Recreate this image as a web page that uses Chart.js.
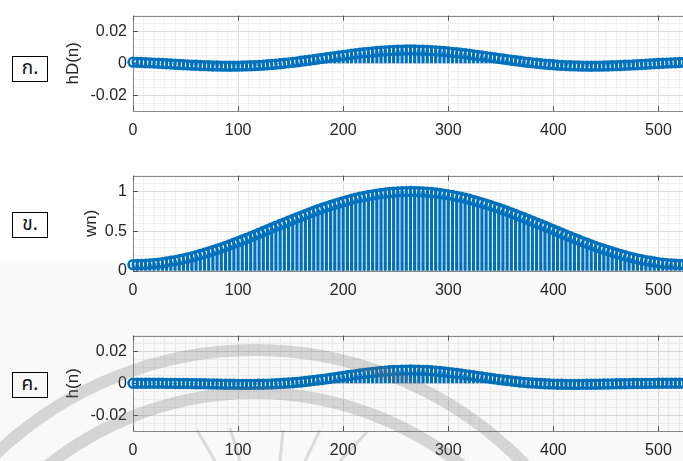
<!DOCTYPE html>
<html>
<head>
<meta charset="utf-8">
<script src="https://cdn.jsdelivr.net/npm/chart.js@4.4.1/dist/chart.umd.min.js"></script>
<style>
body { margin: 0; background: #fff; width: 683px; height: 461px; overflow: hidden; position: relative; }
canvas { position: absolute; left: 0; }
.tag { position: absolute; left: 12px; width: 34px; height: 24px; border: 1.5px solid #000; font-size: 19px; line-height: 24px;
       text-align: center; color: #111; font-family: "Noto Sans Thai", "Noto Sans", "DejaVu Sans", sans-serif; }
#mark { position: absolute; left: 0; top: 0; pointer-events: none; }
</style>
</head>
<body>
<div class="tag" style="top:56px">ก.</div>
<div class="tag" style="top:212px">ข.</div>
<div class="tag" style="top:372px">ค.</div>
<canvas id="c1" width="700" height="140" style="top:0px"></canvas>
<canvas id="c2" width="700" height="140" style="top:160px"></canvas>
<canvas id="c3" width="700" height="140" style="top:320px"></canvas>
<!-- faint watermark of the scanned page -->
<svg id="mark" width="683" height="461" viewBox="0 0 683 461">
  <rect x="0" y="263" width="683" height="198" fill="rgba(0,0,0,0.022)"/>
  <g fill="none" stroke="rgba(110,110,110,0.26)" stroke-width="12">
    <circle cx="255" cy="725" r="375"/>
    <circle cx="255" cy="725" r="332"/>
  </g>
  <g stroke="rgba(110,110,110,0.22)" stroke-width="3">
    <line x1="197" y1="430" x2="215" y2="461"/>
    <line x1="230" y1="428" x2="240" y2="461"/>
    <line x1="283" y1="430" x2="280" y2="461"/>
    <line x1="320" y1="430" x2="305" y2="461"/>
    <line x1="367" y1="432" x2="340" y2="461"/>
  </g>
</svg>
<script>
// sample spacing (n = 0, 4, 8 ... 528)
var STEP = 4;

// ก. ideal response hD(n)
var hD = [
  0.00071, 0.00061, 0.00051, 0.00039, 0.00027, 0.00014, 0, -0.00014, -0.00029, -0.00043,
  -0.00058, -0.00072, -0.00087, -0.00101, -0.00114, -0.00126, -0.00138, -0.00148, -0.00158, -0.00166,
  -0.00172, -0.00177, -0.00180, -0.00181, -0.00180, -0.00177, -0.00172, -0.00165, -0.00156, -0.00144,
  -0.00130, -0.00114, -0.00095, -0.00075, -0.00052, -0.00027, 0, 0.00029, 0.00059, 0.00091,
  0.00125, 0.00159, 0.00195, 0.00232, 0.00269, 0.00307, 0.00345, 0.00383, 0.00421, 0.00458,
  0.00495, 0.00531, 0.00565, 0.00599, 0.00631, 0.00661, 0.00689, 0.00715, 0.00739, 0.00761,
  0.00780, 0.00796, 0.00809, 0.00820, 0.00827, 0.00832, 0.00833,
  0.00832, 0.00827, 0.00820, 0.00809, 0.00796, 0.00780, 0.00761, 0.00739, 0.00715, 0.00689,
  0.00661, 0.00631, 0.00599, 0.00565, 0.00531, 0.00495, 0.00458, 0.00421, 0.00383, 0.00345,
  0.00307, 0.00269, 0.00232, 0.00195, 0.00159, 0.00125, 0.00091, 0.00059, 0.00029, 0,
  -0.00027, -0.00052, -0.00075, -0.00095, -0.00114, -0.00130, -0.00144, -0.00156, -0.00165, -0.00172,
  -0.00177, -0.00180, -0.00181, -0.00180, -0.00177, -0.00172, -0.00166, -0.00158, -0.00148, -0.00138,
  -0.00126, -0.00114, -0.00101, -0.00087, -0.00072, -0.00058, -0.00043, -0.00029, -0.00014, 0,
  0.00014, 0.00027, 0.00039, 0.00051, 0.00061, 0.00071
];

// ข. window wn
var wn = [
  0.080, 0.081, 0.082, 0.085, 0.088, 0.093, 0.099, 0.105, 0.113, 0.122,
  0.131, 0.142, 0.153, 0.165, 0.178, 0.192, 0.207, 0.223, 0.239, 0.256,
  0.273, 0.291, 0.310, 0.329, 0.349, 0.369, 0.390, 0.410, 0.432, 0.453,
  0.475, 0.496, 0.518, 0.540, 0.562, 0.584, 0.605, 0.627, 0.648, 0.670,
  0.690, 0.711, 0.731, 0.751, 0.770, 0.789, 0.807, 0.824, 0.841, 0.857,
  0.873, 0.888, 0.902, 0.915, 0.927, 0.938, 0.949, 0.958, 0.967, 0.975,
  0.981, 0.987, 0.992, 0.995, 0.998, 0.999, 1.000,
  0.999, 0.998, 0.995, 0.992, 0.987, 0.981, 0.975, 0.967, 0.958, 0.949,
  0.938, 0.927, 0.915, 0.902, 0.888, 0.873, 0.857, 0.841, 0.824, 0.807,
  0.789, 0.770, 0.751, 0.731, 0.711, 0.690, 0.670, 0.648, 0.627, 0.605,
  0.584, 0.562, 0.540, 0.518, 0.496, 0.475, 0.453, 0.432, 0.410, 0.390,
  0.369, 0.349, 0.329, 0.310, 0.291, 0.273, 0.256, 0.239, 0.223, 0.207,
  0.192, 0.178, 0.165, 0.153, 0.142, 0.131, 0.122, 0.113, 0.105, 0.099,
  0.093, 0.088, 0.085, 0.082, 0.081, 0.080
];

// ค. windowed response h(n)
var h = [
  0.00006, 0.00005, 0.00004, 0.00003, 0.00002, 0.00001, 0, -0.00001, -0.00003, -0.00005,
  -0.00008, -0.00010, -0.00013, -0.00017, -0.00020, -0.00024, -0.00029, -0.00033, -0.00038, -0.00042,
  -0.00047, -0.00051, -0.00056, -0.00060, -0.00063, -0.00065, -0.00067, -0.00068, -0.00067, -0.00065,
  -0.00062, -0.00056, -0.00049, -0.00040, -0.00029, -0.00016, 0, 0.00018, 0.00038, 0.00061,
  0.00086, 0.00113, 0.00142, 0.00174, 0.00207, 0.00242, 0.00278, 0.00315, 0.00354, 0.00392,
  0.00432, 0.00471, 0.00510, 0.00548, 0.00585, 0.00620, 0.00654, 0.00685, 0.00715, 0.00742,
  0.00765, 0.00785, 0.00803, 0.00816, 0.00826, 0.00831, 0.00833,
  0.00831, 0.00826, 0.00816, 0.00803, 0.00785, 0.00765, 0.00742, 0.00715, 0.00685, 0.00654,
  0.00620, 0.00585, 0.00548, 0.00510, 0.00471, 0.00432, 0.00392, 0.00354, 0.00315, 0.00278,
  0.00242, 0.00207, 0.00174, 0.00142, 0.00113, 0.00086, 0.00061, 0.00038, 0.00018, 0,
  -0.00016, -0.00029, -0.00040, -0.00049, -0.00056, -0.00062, -0.00065, -0.00067, -0.00068, -0.00067,
  -0.00065, -0.00063, -0.00060, -0.00056, -0.00051, -0.00047, -0.00042, -0.00038, -0.00033, -0.00029,
  -0.00024, -0.00020, -0.00017, -0.00013, -0.00010, -0.00008, -0.00005, -0.00003, -0.00001, 0,
  0.00001, 0.00002, 0.00003, 0.00004, 0.00005, 0.00006
];

var xTicks = [0, 100, 200, 300, 400, 500];
var yTicksSmall = [-0.02, 0, 0.02];
var yTicksWin = [0, 0.5, 1];

var BLUE = '#0072BD';
var TXT = '#262626';
var FONT = '"Liberation Sans", Arial, Helvetica, sans-serif';

function steps(lo, hi, d) {
  var out = [];
  for (var v = lo; v <= hi + d / 1000; v += d) out.push(Math.round(v * 1e6) / 1e6);
  return out;
}
function isMajor(list, v) {
  return list.some(function (m) { return Math.abs(m - v) < 1e-9; });
}

// box around the axes + small inward major ticks (MATLAB style)
var framePlugin = {
  id: 'frame',
  beforeDatasetsDraw: function (chart, args, opts) {
    var a = chart.chartArea, c = chart.ctx;
    var sx = chart.scales.x, sy = chart.scales.y;
    c.save();
    c.strokeStyle = '#8a8a8a';
    c.lineWidth = 1;
    c.strokeRect(Math.round(a.left) + 0.5, Math.round(a.top) + 0.5, a.right - a.left + 4, Math.round(a.bottom - a.top));
    c.strokeStyle = '#555';
    xTicks.forEach(function (t) {
      var px = Math.round(sx.getPixelForValue(t)) + 0.5;
      c.beginPath();
      c.moveTo(px, a.top); c.lineTo(px, a.top + 5);
      c.moveTo(px, a.bottom); c.lineTo(px, a.bottom - 5);
      c.stroke();
    });
    opts.major.forEach(function (t) {
      var py = Math.round(sy.getPixelForValue(t)) + 0.5;
      c.beginPath();
      c.moveTo(a.left, py); c.lineTo(a.left + 5, py);
      c.stroke();
    });
    c.restore();
  }
};

function makeChart(id, values, yMin, yMax, yMinor, yMajor, title, titlePad, padTop) {
  var pts = values.map(function (v, i) { return { x: i * STEP, y: v }; });
  var xGrid = steps(0, 530, 10);
  var yGrid = steps(yMin, yMax, yMinor);
  return new Chart(document.getElementById(id).getContext('2d'), {
    type: 'bar',
    data: {
      datasets: [{
        type: 'line',
        data: pts,
        showLine: false,
        pointStyle: 'circle',
        pointRadius: 4.4,
        pointBorderWidth: 2.6,
        pointBorderColor: BLUE,
        pointBackgroundColor: 'rgba(0,0,0,0)',
        clip: false
      }, {
        type: 'bar',
        data: pts,
        backgroundColor: BLUE,
        barThickness: 2.5
      }]
    },
    options: {
      responsive: false,
      animation: false,
      devicePixelRatio: 1,
      layout: { padding: { top: padTop, left: 0, right: 0, bottom: 0 } },
      plugins: { legend: { display: false }, tooltip: { enabled: false }, frame: { major: yMajor } },
      scales: {
        x: {
          type: 'linear', min: 0, max: 530, offset: false,
          grid: {
            offset: false, drawTicks: false,
            color: function (ctx) { return ctx.tick && ctx.tick.value % 100 === 0 ? '#dcdcdc' : '#f0f0f0'; }
          },
          border: { display: false },
          afterBuildTicks: function (s) { s.ticks = xGrid.map(function (v) { return { value: v }; }); },
          afterFit: function (s) { s.height = 29; },
          ticks: {
            autoSkip: false, maxRotation: 0, padding: 10, color: TXT,
            font: { family: FONT, size: 16 },
            callback: function (v) { return isMajor(xTicks, v) ? String(v) : ''; }
          }
        },
        y: {
          min: yMin, max: yMax,
          grid: {
            drawTicks: false,
            color: function (ctx) { return ctx.tick && isMajor(yMajor, ctx.tick.value) ? '#dcdcdc' : '#f0f0f0'; }
          },
          border: { display: false },
          afterBuildTicks: function (s) { s.ticks = yGrid.map(function (v) { return { value: v }; }); },
          afterFit: function (s) { s.width = 133; },
          title: {
            display: true, text: title, color: TXT,
            font: { family: FONT, size: 17 },
            padding: { top: titlePad, bottom: 0 }
          },
          ticks: {
            autoSkip: false, padding: 6, color: TXT,
            font: { family: FONT, size: 16 },
            callback: function (v) { return isMajor(yMajor, v) ? String(v) : ''; }
          }
        }
      }
    },
    plugins: [framePlugin]
  });
}

makeChart('c1', hD, -0.03, 0.03, 0.005, yTicksSmall, 'hD(n)', 63, 9);
makeChart('c2', wn, 0, 1.2, 0.1, yTicksWin, 'wn)', 81, 9);
makeChart('c3', h, -0.03, 0.03, 0.005, yTicksSmall, 'h(n)', 63, 8);
</script>
</body>
</html>
